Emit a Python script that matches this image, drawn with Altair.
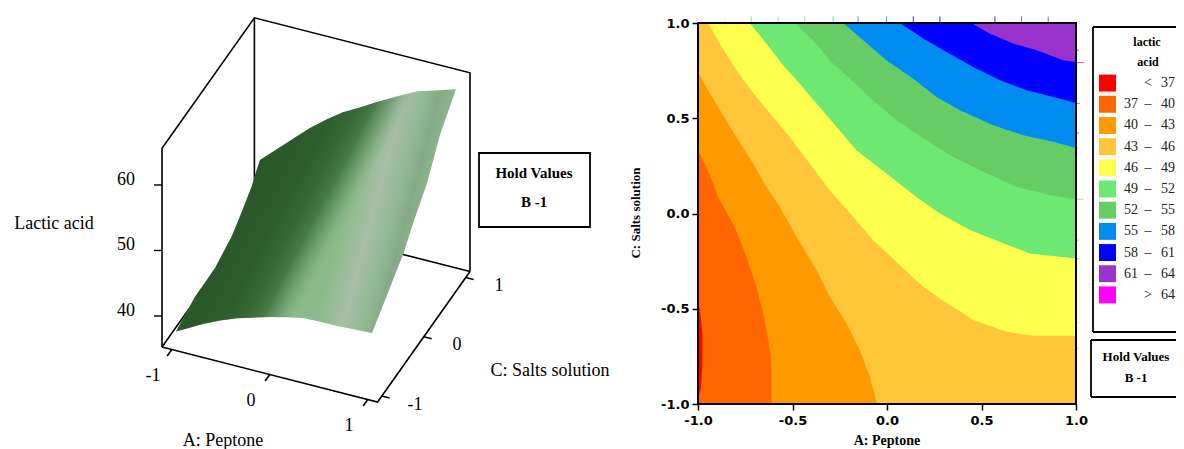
import altair as alt
import pandas as pd

# ---------- contour panel data: each boundary (A, C) ----------
b40_A = [-1, -0.947, -0.894, -0.806, -0.744, -0.691, -0.647, -0.617, -0.611, -0.610, 1]
b40_C = [0.332, 0.227, 0.087, -0.070, -0.227, -0.385, -0.559, -0.734, -0.822, -1, -1]
b43_A = [-1, -0.947, -0.868, -0.797, -0.709, -0.638, -0.568, -0.479, -0.373, -0.303, -0.214, -0.144, -0.091, -0.052, 1]
b43_C = [0.743, 0.647, 0.516, 0.402, 0.262, 0.140, 0.035, -0.122, -0.297, -0.437, -0.577, -0.717, -0.857, -1, -1]
b46_A = [-0.947, -0.868, -0.779, -0.691, -0.603, -0.515, -0.409, -0.303, -0.179, -0.073, 0.068, 0.192, 0.28, 0.456, 0.633, 0.774, 1]
b46_C = [1, 0.865, 0.726, 0.612, 0.507, 0.402, 0.262, 0.122, -0.017, -0.140, -0.271, -0.385, -0.446, -0.559, -0.621, -0.642, -0.642]
b49_A = [-0.726, -0.638, -0.55, -0.462, -0.373, -0.267, -0.162, -0.003, 0.156, 0.28, 0.439, 0.598, 0.756, 1]
b49_C = [1, 0.892, 0.778, 0.682, 0.577, 0.455, 0.332, 0.210, 0.087, 0, -0.087, -0.149, -0.210, -0.236]
b52_A = [-0.488, -0.391, -0.303, -0.197, -0.073, 0.05, 0.209, 0.333, 0.509, 0.686, 0.862, 1]
b52_C = [1, 0.909, 0.804, 0.708, 0.594, 0.490, 0.385, 0.306, 0.219, 0.140, 0.096, 0.075]
b55_A = [-0.232, -0.126, -0.003, 0.139, 0.262, 0.386, 0.562, 0.721, 0.88, 1]
b55_C = [1, 0.909, 0.804, 0.708, 0.612, 0.542, 0.463, 0.411, 0.376, 0.344]
b58_A = [0.068, 0.192, 0.315, 0.456, 0.598, 0.739, 0.88, 1]
b58_C = [1, 0.918, 0.848, 0.769, 0.699, 0.647, 0.612, 0.58]
b61_A = [0.447, 0.545, 0.668, 0.792, 0.933, 1]
b61_C = [1, 0.944, 0.892, 0.857, 0.804, 0.795]
red_A = [-1, -0.985, -0.977]
red_low = [-0.97, -0.92, -0.80]
red_high = [-0.44, -0.55, -0.63]

legend_rows = ["<37", "37-40", "40-43", "43-46", "46-49", "49-52", "52-55", "55-58", "58-61", "61-64", ">64"]
legend_low = ["", "37", "40", "43", "46", "49", "52", "55", "58", "61", ""]
legend_sep = ["<", "–", "–", "–", "–", "–", "–", "–", "–", "–", ">"]
legend_high = ["37", "40", "43", "46", "49", "52", "55", "58", "61", "64", "64"]
legend_colors = ["#ff0000", "#ff6600", "#ff9900", "#ffc63c", "#ffff4d", "#6ce873",
                 "#66cc66", "#008cf0", "#0000ff", "#9933cc", "#ff00ff"]

# edge artefacts on the map border
spike_A = [-0.859, -0.718, -0.576, -0.435, -0.285, -0.153, -0.003, 0.139, 0.28, 0.571, 0.712, 0.853]
spike_top_colors = ["#ffff4d", "#6ce873", "#6ce873", "#6ce873", "#66cc66", "#008cf0", "#008cf0",
                    "#0000ff", "#0000ff", "#0000ff", "#9933cc", "#9933cc"]
spike_C = [0.857, 0.792, 0.577, 0.423, 0.344, 0.075, -0.14, -0.236, -0.572, -0.708]
spike_right_len = [0.015, 0.04, 0.02, 0.015, 0.012, 0.04, 0.015, 0.015, 0.02, 0.015]
spike_right_colors = ["#9933cc", "#9933cc", "#008cf0", "#008cf0", "#66cc66", "#6ce873",
                      "#6ce873", "#6ce873", "#ffff4d", "#ffc63c"]

# ---------- 3D surface edges: lactic acid read along each side ----------
front_A = [-1, -0.724, -0.551, -0.378, -0.04, 0.13, 0.296, 0.469, 0.643, 1]     # C = -1
front_Z = [37.1, 39.3, 40.5, 41.5, 43.0, 43.6, 44.1, 44.2, 44.2, 44.5]
right_C = [-1, -0.62, -0.26, 0.02, 0.31, 0.62, 1]                               # A = 1
right_Z = [44.5, 47.2, 49.8, 52.8, 55.5, 60.1, 63.6]
back_A = [1, 0.786, 0.602, 0.395, 0.194, 0.02, -0.153, -0.316, -0.49, -0.643, -0.796, -1]  # C = 1
back_Z = [63.6, 62.6, 61.8, 60.2, 58.6, 57.1, 55.7, 54.0, 52.0, 50.0, 47.9, 45.2]
left_C = [1, 0.905, 0.80, 0.55, 0.326, -0.07, -0.55, -1]                        # A = -1
left_Z = [45.2, 44.2, 42.9, 41.1, 39.6, 38.4, 38.3, 37.1]

box_lo, box_hi, z_lo, z_hi = -1.1, 1.1, 35.26, 65.6
z_ticks = [40, 50, 60]
ab_ticks = [-1, 0, 1]

light_offsets = [0, 0.70, 0.80, 0.87, 0.92, 0.97]
light_colors = ["#8cba8c", "#8cba8c", "#a8bea5", "#93b993", "#86aa86", "#8ab58a"]
dark_offsets = [0, 0.39, 0.55, 0.62, 0.67, 0.72, 0.78]
dark_colors = ["rgba(42,85,41,1)", "rgba(42,85,41,1)", "rgba(46,94,46,1)", "rgba(54,104,56,1)",
               "rgba(58,110,60,0.85)", "rgba(70,125,75,0.45)", "rgba(110,160,110,0)"]

MARGIN = 8
W, H = 1168, 441


def project(a, c, z):
    x = 316 + 98 * a + 42 * c
    y = 311 + 25 * a - 59.3 * c - 6.55 * (z - 35)
    return [x - MARGIN, y - MARGIN]


IDENT = dict(type="identity", scale=1, translate=[0, 0])


def line_feature(points):
    return {"type": "Feature", "properties": {},
            "geometry": {"type": "LineString", "coordinates": [project(*p) for p in points]}}


box_edges = [
    [(box_lo, box_lo, z_lo), (box_hi, box_lo, z_lo), (box_hi, box_hi, z_lo)],
    [(box_lo, box_lo, z_lo), (box_lo, box_hi, z_lo), (box_hi, box_hi, z_lo)],
    [(box_lo, box_lo, z_lo), (box_lo, box_lo, z_hi), (box_lo, box_hi, z_hi), (box_hi, box_hi, z_hi), (box_hi, box_hi, z_lo)],
    [(box_lo, box_hi, z_lo), (box_lo, box_hi, z_hi)],
]
tick_edges = (
    [[(v, box_lo, z_lo), (v, box_lo - 0.11, z_lo)] for v in ab_ticks]
    + [[(box_hi, v, z_lo), (box_hi + 0.08, v, z_lo)] for v in ab_ticks]
)
box_layer = alt.Chart(alt.Data(values=[line_feature(e) for e in box_edges + tick_edges])).mark_geoshape(
    filled=False, stroke="#000000", strokeWidth=1.6).project(**IDENT)

ztick_layer = alt.Chart(pd.DataFrame({
    "x": [project(box_lo, box_lo, z)[0] - 8 for z in z_ticks],
    "x2": [project(box_lo, box_lo, z)[0] for z in z_ticks],
    "y": [project(box_lo, box_lo, z)[1] for z in z_ticks],
})).mark_rule(stroke="#000000", strokeWidth=1.4).encode(
    x=alt.X("x:Q", axis=None, scale=alt.Scale(domain=[0, W], range=[0, W])),
    x2="x2:Q",
    y=alt.Y("y:Q", axis=None, scale=alt.Scale(domain=[0, H], range=[0, H])),
)

ring = (
    [project(a, -1, z) for a, z in zip(front_A, front_Z)]
    + [project(1, c, z) for c, z in zip(right_C, right_Z)][1:]
    + [project(a, 1, z) for a, z in zip(back_A, back_Z)][1:]
    + [project(-1, c, z) for c, z in zip(left_C, left_Z)][1:]
)
surface_feature = {"type": "Feature", "properties": {},
                   "geometry": {"type": "Polygon", "coordinates": [ring]}}


def shaded(colors, offsets, x2, y2):
    return alt.Chart(alt.Data(values=[surface_feature])).mark_geoshape(
        fill=alt.LinearGradient(
            gradient="linear",
            stops=[alt.GradientStop(color=c, offset=o) for c, o in zip(colors, offsets)],
            x1=0, y1=0, x2=x2, y2=y2),
        strokeWidth=0).project(**IDENT)


surface_light = shaded(light_colors, light_offsets, 0.974, 0.226)
surface_dark = shaded(dark_colors, dark_offsets, 0.909, 0.416)


def txt(text, x, y, size=18, font="Liberation Serif", weight="normal", angle=0, align="center", color="#000000"):
    return alt.Chart(alt.Data(values=[{"t": text}])).mark_text(
        font=font, fontSize=size, fontWeight=weight, angle=angle, align=align,
        baseline="middle", color=color).encode(
        x=alt.value(x - MARGIN), y=alt.value(y - MARGIN), text="t:N")


def pt_txt(text, a, c, z=z_lo, size=18, dx=0, dy=0):
    x, y = project(a, c, z)
    return txt(text, x + MARGIN + dx, y + MARGIN + dy, size=size)


left_texts = [
    txt("Lactic acid", 54, 224),
    txt("A: Peptone", 223, 441),
    txt("C: Salts solution", 550, 371),
    txt("Hold Values", 534, 173, size=15, weight="bold"),
    txt("B  -1", 534, 202, size=15, weight="bold"),
]
for v in z_ticks:
    left_texts.append(pt_txt(str(v), box_lo, box_lo, v, dx=-36, dy=-5))
for v in ab_ticks:
    left_texts.append(pt_txt(str(v), v, -1.55))
    left_texts.append(pt_txt(str(v), 1.44, v))

hold_left = alt.Chart(alt.Data(values=[{"t": 1}])).mark_rect(
    fill="#ffffff", stroke="#000000", strokeWidth=1.8).encode(
    x=alt.value(479 - MARGIN), x2=alt.value(590 - MARGIN),
    y=alt.value(153 - MARGIN), y2=alt.value(227 - MARGIN))

# ---------- contour map ----------
px_x = alt.Scale(domain=[-1, 1], range=[698 - MARGIN, 1076 - MARGIN], nice=False, zero=False)
px_y = alt.Scale(domain=[-1, 1], range=[404 - MARGIN, 23 - MARGIN], nice=False, zero=False)
tick_vals = [-1, -0.5, 0, 0.5, 1]
LABEL_EXPR = "replace(format(datum.value, '.1f'), '\u2212', '-')"
ax_x = alt.Axis(values=tick_vals, labelExpr=LABEL_EXPR, title=None, grid=False, orient="bottom",
                offset=404 - MARGIN - H, labelFont="DejaVu Sans", labelFontSize=13, labelFontWeight="bold",
                labelColor="#000000", tickColor="#000000", tickWidth=1.5, tickSize=6, domain=False,
                labelPadding=4, labelFlush=False)
ax_y = alt.Axis(values=tick_vals, labelExpr=LABEL_EXPR, title=None, grid=False, orient="left",
                offset=-(698 - MARGIN), labelFont="DejaVu Sans", labelFontSize=13, labelFontWeight="bold",
                labelColor="#000000", tickColor="#000000", tickWidth=1.5, tickSize=6, domain=False,
                labelPadding=3, labelFlush=False)
X = alt.X("A:Q", scale=px_x, axis=ax_x)
Y = alt.Y("C:Q", scale=px_y, axis=ax_y)


def band(a, c, color):
    df = pd.DataFrame({"A": a, "C": c, "top": [1.0] * len(a)})
    return alt.Chart(df).mark_area(color=color, interpolate="linear", opacity=1).encode(x=X, y=Y, y2="top:Q")


contour_layers = [
    band([-1, 1], [-1, -1], legend_colors[1]),
    alt.Chart(pd.DataFrame({"A": red_A, "C": red_low, "top": red_high})).mark_area(color=legend_colors[0]).encode(x=X, y=Y, y2="top:Q"),
    band(b40_A, b40_C, legend_colors[2]),
    band(b43_A, b43_C, legend_colors[3]),
    band(b46_A, b46_C, legend_colors[4]),
    band(b49_A, b49_C, legend_colors[5]),
    band(b52_A, b52_C, legend_colors[6]),
    band(b55_A, b55_C, legend_colors[7]),
    band(b58_A, b58_C, legend_colors[8]),
    band(b61_A, b61_C, legend_colors[9]),
]
spikes = pd.DataFrame({
    "A": spike_A + [1.0] * len(spike_C),
    "C": [1.0] * len(spike_A) + spike_C,
    "A2": spike_A + [1.0 + v for v in spike_right_len],
    "C2": [1.035] * len(spike_A) + spike_C,
    "col": spike_top_colors + spike_right_colors,
})
contour_layers.append(
    alt.Chart(spikes).mark_rule(strokeWidth=1, opacity=0.8).encode(
        x=X, y=Y, x2="A2:Q", y2="C2:Q", color=alt.Color("col:N", scale=None))
)
contour_layers.append(
    alt.Chart(pd.DataFrame({"A": [-1], "A2": [1], "C": [-1], "C2": [1]})).mark_rect(
        fill=None, stroke="#000000", strokeWidth=2).encode(x=X, x2="A2:Q", y=Y, y2="C2:Q")
)
contour = alt.layer(*contour_layers)

contour_titles = [
    txt("A: Peptone", 887, 441, size=14, weight="bold"),
    txt("C: Salts solution", 636, 213, size=13, weight="bold", angle=270),
]

# ---------- legend ----------
ROW = alt.Y("row:N", sort=legend_rows, axis=None,
            scale=alt.Scale(domain=legend_rows, range=[72.5 - MARGIN, 305.5 - MARGIN],
                            paddingInner=0.2, paddingOuter=0.1))
leg_df = pd.DataFrame({"row": legend_rows, "low": legend_low, "sep": legend_sep,
                       "high": legend_high, "col": legend_colors})
leg_rects = alt.Chart(leg_df).mark_rect().encode(
    y=ROW, x=alt.value(1099 - MARGIN), x2=alt.value(1116 - MARGIN),
    color=alt.Color("col:N", scale=None))


def leg_col(field, x, align):
    return alt.Chart(leg_df).mark_text(font="Liberation Serif", fontSize=14, color="#222222", align=align,
                                       baseline="middle").encode(
        y=ROW, x=alt.value(x - MARGIN), text=f"{field}:N")


legend = alt.layer(leg_rects, leg_col("low", 1138, "right"), leg_col("sep", 1148, "center"),
                   leg_col("high", 1175, "right"))


def seg(x0, y0, x1, y1):
    return alt.Chart(alt.Data(values=[{"t": 1}])).mark_rule(stroke="#000000", strokeWidth=1.8).encode(
        x=alt.value(x0 - MARGIN), x2=alt.value(x1 - MARGIN),
        y=alt.value(y0 - MARGIN), y2=alt.value(y1 - MARGIN))


frames = [
    seg(1093, 27, 1193, 27), seg(1093, 27, 1093, 332), seg(1093, 332, 1193, 332),
    seg(1091, 340, 1193, 340), seg(1091, 340, 1091, 397), seg(1091, 397, 1193, 397),
]
legend_texts = [
    txt("lactic", 1147, 42, size=12, weight="bold"),
    txt("acid", 1148, 62, size=12, weight="bold"),
    txt("Hold Values", 1136, 357, size=13, weight="bold"),
    txt("B  -1", 1136, 378, size=13, weight="bold"),
]

chart = alt.layer(
    box_layer, ztick_layer, surface_light, surface_dark, hold_left, *left_texts,
    contour, *contour_titles,
    *frames, legend, *legend_texts,
).resolve_scale(x="independent", y="independent").properties(
    width=W, height=H, padding=0,
    autosize=alt.AutoSizeParams(type="none", contains="padding"),
    background="#ffffff",
).configure_view(stroke=None)

chart.save("out.html", embed_options={"renderer": "svg", "actions": False})
